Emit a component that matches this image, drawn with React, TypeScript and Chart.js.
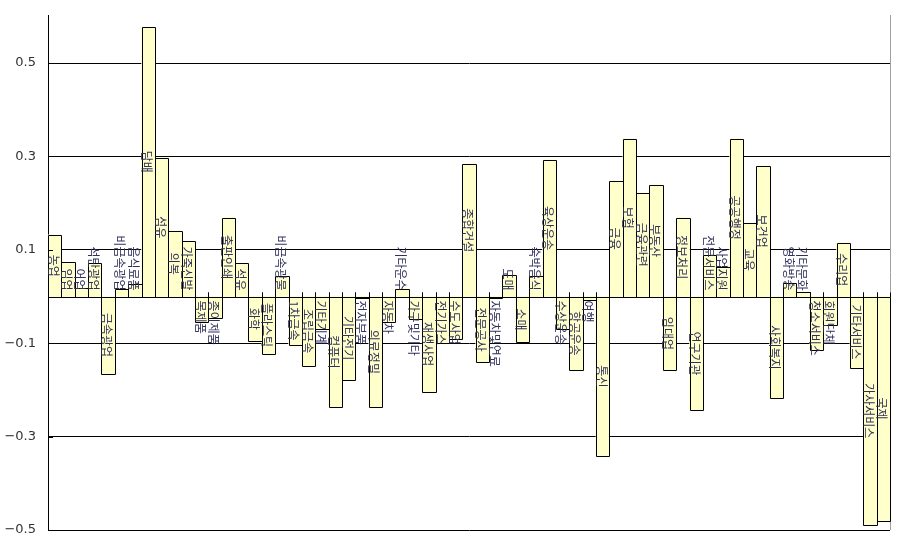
import { useEffect, useRef } from 'react';
import { Chart, registerables } from 'chart.js';

Chart.register(...registerables);

const sectors = [
  '농업', '임업', '어업', '석탄광업', '금속광업', '비금속광업', '음식료품', '담배', '섬유', '의복',
  '가죽신발', '목제품', '종이제품', '출판인쇄', '석유', '화학', '플라스틱', '비금속광물', '1차금속', '조립금속',
  '기타기계', '컴퓨터', '기타전기', '전자부품', '의료정밀', '자동차', '기타운수', '가구및기타', '재생사업', '전기가스',
  '수도사업', '종합건설', '전문공사', '자동차및연료', '도매', '소매', '숙박음식', '육상운송', '수상운송', '항공운송',
  '여행', '통신', '금융', '보험', '금융관련', '부동산', '임대업', '정보처리', '연구기관', '전문서비스',
  '사업지원', '공공행정', '교육', '보건업', '사회복지', '영화방송', '기타문화', '청소서비스', '회원단체', '수리업',
  '기타서비스', '가사서비스', '국제',
];

const values = [
  0.132, 0.073, 0.019, 0.071, -0.165, 0.017, 0.026, 0.577, 0.297, 0.141,
  0.118, -0.054, -0.047, 0.169, 0.071, -0.096, -0.122, 0.043, -0.103, -0.148,
  -0.07, -0.237, -0.178, -0.004, -0.237, -0.055, 0.017, -0.049, -0.204, -0.1,
  -0.09, 0.284, -0.141, -0.003, 0.047, -0.098, 0.045, 0.293, -0.069, -0.158,
  -0.007, -0.342, 0.248, 0.338, 0.222, 0.239, -0.158, 0.169, -0.244, 0.09,
  0.064, 0.338, 0.158, 0.28, -0.218, 0.028, 0.009, -0.115, -0.062, 0.115,
  -0.152, -0.489, -0.48,
];

const yTickValues = [-0.5, -0.3, -0.1, 0.1, 0.3, 0.5];
const yTickLabels = ['\u22120.5', '\u22120.3', '\u22120.1', '0.1', '0.3', '0.5'];
const yMin = -0.5;
const yMax = 0.603;

const overlayPlugin = {
  id: 'overlay',
  afterDatasetsDraw(chart: any) {
    const { ctx, chartArea: a, scales } = chart;
    const y = scales.y;
    const meta = chart.getDatasetMeta(0);
    const zeroY = Math.round(y.getPixelForValue(0)) + 0.5;
    ctx.save();
    ctx.lineWidth = 1;

    // right border (gray)
    ctx.strokeStyle = '#a0a0a0';
    ctx.beginPath();
    ctx.moveTo(Math.round(a.right) + 0.5, a.top);
    ctx.lineTo(Math.round(a.right) + 0.5, a.bottom);
    ctx.stroke();

    ctx.strokeStyle = '#000';
    // bar outlines
    meta.data.forEach((bar: any) => {
      const p = bar.getProps(['x', 'y', 'width'], true);
      const l = Math.round(p.x - p.width / 2) + 0.5;
      const r = Math.round(p.x + p.width / 2) + 0.5;
      const t = Math.round(p.y) + 0.5;
      ctx.beginPath();
      ctx.moveTo(l, zeroY);
      ctx.lineTo(l, t);
      ctx.lineTo(r, t);
      ctx.lineTo(r, zeroY);
      ctx.stroke();
      // small upward stub at category boundaries
      ctx.beginPath();
      ctx.moveTo(l, zeroY);
      ctx.lineTo(l, zeroY - 5);
      ctx.moveTo(r, zeroY);
      ctx.lineTo(r, zeroY - 5);
      ctx.stroke();
    });

    // zero line
    ctx.beginPath();
    ctx.moveTo(a.left, zeroY);
    ctx.lineTo(a.right, zeroY);
    ctx.stroke();

    // inward y tick marks
    yTickValues.forEach((v) => {
      const ty = Math.round(y.getPixelForValue(v)) + 0.5;
      ctx.beginPath();
      ctx.moveTo(a.left, ty);
      ctx.lineTo(a.left + 5, ty);
      ctx.stroke();
    });

    // labels inside bars, rotated to read top to bottom
    ctx.font = '12px "Noto Sans CJK KR", "Noto Sans CJK SC", sans-serif';
    ctx.fillStyle = '#2f2f5a';
    ctx.textAlign = 'center';
    ctx.textBaseline = 'middle';
    const rawZero = y.getPixelForValue(0);
    meta.data.forEach((bar: any, i: number) => {
      const p = bar.getProps(['x', 'y', 'base'], true);
      const label = sectors[i];
      const len = ctx.measureText(label).width;
      const half = len / 2;
      let cy = (p.y + rawZero) / 2;
      if (values[i] >= 0) {
        cy = Math.min(cy, rawZero - 6 - half);
      } else {
        cy = Math.max(cy, rawZero + 4 + half);
      }
      ctx.save();
      ctx.translate(p.x - 1.5, cy);
      ctx.rotate(Math.PI / 2);
      ctx.fillText(label, 0, 0);
      ctx.restore();
    });
    ctx.restore();
  },
};

export default function App() {
  const canvasRef = useRef<HTMLCanvasElement | null>(null);

  useEffect(() => {
    const canvas = canvasRef.current;
    if (!canvas) return;
    const chart = new Chart(canvas, {
      type: 'bar',
      data: {
        labels: sectors,
        datasets: [
          {
            data: values,
            backgroundColor: '#ffffcc',
            borderWidth: 0,
            categoryPercentage: 1,
            barPercentage: 1,
          },
        ],
      },
      options: {
        responsive: false,
        animation: false,
        devicePixelRatio: 1,
        layout: { padding: { left: 0, right: 13, top: 15, bottom: 20 } },
        plugins: {
          legend: { display: false },
          tooltip: { enabled: false },
        },
        scales: {
          x: {
            type: 'category',
            display: false,
            offset: true,
            grid: { display: false },
          },
          y: {
            type: 'linear',
            min: yMin,
            max: yMax,
            afterFit: (scale: any) => {
              scale.width = 48;
              scale.paddingTop = 0;
              scale.paddingBottom = 0;
            },
            afterBuildTicks: (scale: any) => {
              scale.ticks = yTickValues.map((v) => ({ value: v }));
            },
            border: { display: true, color: '#000', width: 1 },
            grid: {
              color: '#000',
              lineWidth: 1,
              drawTicks: false,
            },
            ticks: {
              padding: 12,
              color: '#333',
              font: { family: '"DejaVu Sans", sans-serif', size: 13 },
              callback: (_v: any, index: number) => yTickLabels[index],
            },
          },
        },
      },
      plugins: [overlayPlugin],
    });
    return () => chart.destroy();
  }, []);

  return (
    <div style={{ position: 'fixed', left: 0, top: 0, width: 903, height: 550, background: '#fff' }}>
      <canvas ref={canvasRef} width={903} height={550} />
    </div>
  );
}
